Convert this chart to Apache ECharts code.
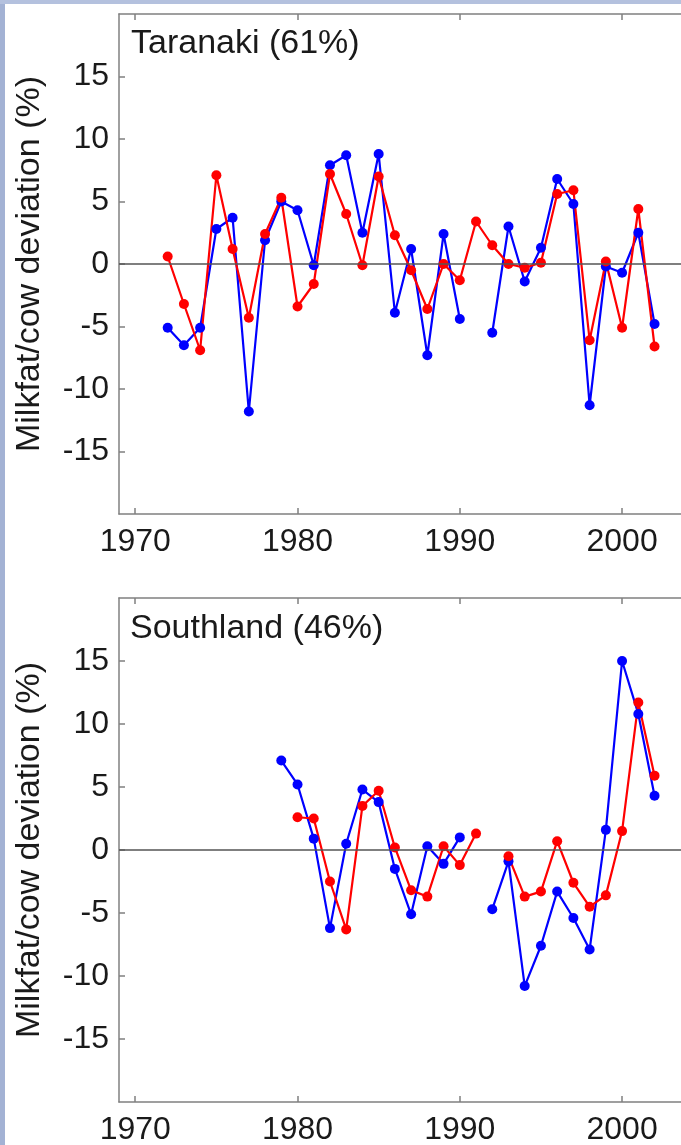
<!DOCTYPE html>
<html>
<head>
<meta charset="utf-8">
<script src="https://cdn.jsdelivr.net/npm/echarts@6/dist/echarts.min.js"></script>
<style>
  html, body { margin: 0; padding: 0; background: #fff; }
  #chart { width: 681px; height: 1145px; }
</style>
</head>
<body>
<div id="chart"></div>
<script>
const blueColor = '#0000ff';
const redColor = '#ff0000';
const axisColor = '#808080';
const textColor = '#1a1a1a';
const font = 'Liberation Sans';

// x tick labels / y tick labels
const yearTicks = [1970, 1980, 1990, 2000];
const valueTicks = [-15, -10, -5, 0, 5, 10, 15];

// Taranaki (61%)
const taranakiYears = [1972, 1973, 1974, 1975, 1976, 1977, 1978, 1979, 1980, 1981,
  1982, 1983, 1984, 1985, 1986, 1987, 1988, 1989, 1990, 1991,
  1992, 1993, 1994, 1995, 1996, 1997, 1998, 1999, 2000, 2001, 2002];
const taranakiBlue = [-5.1, -6.5, -5.1, 2.8, 3.7, -11.8, 1.9, 5.0, 4.3, -0.1,
  7.9, 8.7, 2.5, 8.8, -3.9, 1.2, -7.3, 2.4, -4.4, null,
  -5.5, 3.0, -1.4, 1.3, 6.8, 4.8, -11.3, -0.2, -0.7, 2.5, -4.8];
const taranakiRed = [0.6, -3.2, -6.9, 7.1, 1.2, -4.3, 2.4, 5.3, -3.4, -1.6,
  7.2, 4.0, -0.1, 7.0, 2.3, -0.5, -3.6, 0.0, -1.3, 3.4,
  1.5, 0.0, -0.3, 0.1, 5.6, 5.9, -6.1, 0.2, -5.1, 4.4, -6.6];

// Southland (46%)
const southlandYears = [1979, 1980, 1981, 1982, 1983, 1984, 1985, 1986, 1987, 1988,
  1989, 1990, 1991, 1992, 1993, 1994, 1995, 1996, 1997, 1998,
  1999, 2000, 2001, 2002];
const southlandBlue = [7.1, 5.2, 0.9, -6.2, 0.5, 4.8, 3.8, -1.5, -5.1, 0.3,
  -1.1, 1.0, null, -4.7, -0.9, -10.8, -7.6, -3.3, -5.4, -7.9,
  1.6, 15.0, 10.8, 4.3];
const southlandRed = [null, 2.6, 2.5, -2.5, -6.3, 3.5, 4.7, 0.2, -3.2, -3.7,
  0.3, -1.2, 1.3, null, -0.5, -3.7, -3.3, 0.7, -2.6, -4.5,
  -3.6, 1.5, 11.7, 5.9];

function pairs(years, vals) {
  return years.map(function (y, i) { return [y, vals[i]]; });
}

var lineOpt = { color: axisColor, width: 1.5 };

function xAxes(gridIndex) {
  return [
    {
      type: 'value', gridIndex: gridIndex, min: 1969, max: 2004, position: 'bottom',
      axisLine: { show: true, onZero: false, lineStyle: lineOpt },
      axisTick: { inside: true, length: 6, customValues: yearTicks, lineStyle: lineOpt },
      axisLabel: {
        customValues: yearTicks, margin: 12, fontSize: 32, color: textColor, fontFamily: font,
        formatter: function (v) { return String(v); }
      },
      splitLine: { show: false }
    },
    {
      type: 'value', gridIndex: gridIndex, min: 1969, max: 2004, position: 'top',
      axisLine: { show: true, onZero: false, lineStyle: lineOpt },
      axisTick: { inside: true, length: 6, customValues: yearTicks, lineStyle: lineOpt },
      axisLabel: { show: false },
      splitLine: { show: false }
    }
  ];
}

function yAxes(gridIndex) {
  return [
    {
      type: 'value', gridIndex: gridIndex, min: -20, max: 20, interval: 5, position: 'left',
      name: 'Milkfat/cow deviation (%)', nameLocation: 'middle', nameGap: 72,
      nameTextStyle: { fontSize: 34, color: textColor, fontFamily: font },
      axisLine: { show: true, onZero: false, lineStyle: lineOpt },
      axisTick: { inside: true, length: 6, customValues: valueTicks, lineStyle: lineOpt },
      axisLabel: { customValues: valueTicks, margin: 10, fontSize: 32, color: textColor, fontFamily: font },
      splitLine: { show: false }
    },
    {
      type: 'value', gridIndex: gridIndex, min: -20, max: 20, interval: 5, position: 'right',
      axisLine: { show: true, onZero: false, lineStyle: lineOpt },
      axisTick: { inside: true, length: 6, customValues: valueTicks, lineStyle: lineOpt },
      axisLabel: { show: false },
      splitLine: { show: false }
    }
  ];
}

function lineSeries(name, color, xi, yi, data, zero) {
  var s = {
    name: name, type: 'line', xAxisIndex: xi, yAxisIndex: yi,
    data: data, connectNulls: false,
    symbol: 'circle', symbolSize: 10,
    lineStyle: { color: color, width: 2.2 },
    itemStyle: { color: color }
  };
  if (zero) {
    s.markLine = {
      silent: true, symbol: ['none', 'none'],
      label: { show: false },
      lineStyle: { color: '#555', width: 1.5, type: 'solid' },
      data: [{ yAxis: 0 }]
    };
  }
  return s;
}

var chart = echarts.init(document.getElementById('chart'));
var titleStyle = { fontSize: 34, fontWeight: 'normal', color: textColor, fontFamily: font };

var option = {
  animation: false,
  backgroundColor: '#fff',
  title: [
    { text: 'Taranaki (61%)', left: 131, top: 27, padding: 0, textStyle: titleStyle },
    { text: 'Southland (46%)', left: 130, top: 612, padding: 0, textStyle: titleStyle }
  ],
  graphic: [
    { type: 'rect', shape: { x: 0, y: 0, width: 5, height: 1145 }, style: { fill: '#a3b2d4' }, z: -10 },
    { type: 'rect', shape: { x: 0, y: 0, width: 681, height: 4 }, style: { fill: '#b4c1de' }, z: -10 }
  ],
  grid: [
    { left: 119, top: 14, width: 568, height: 500, outerBoundsMode: 'none' },
    { left: 119, top: 598, width: 568, height: 504, outerBoundsMode: 'none' }
  ],
  xAxis: xAxes(0).concat(xAxes(1)),
  yAxis: yAxes(0).concat(yAxes(1)),
  series: [
    lineSeries('Taranaki blue', blueColor, 0, 0, pairs(taranakiYears, taranakiBlue), true),
    lineSeries('Taranaki red', redColor, 0, 0, pairs(taranakiYears, taranakiRed), false),
    lineSeries('Southland blue', blueColor, 2, 2, pairs(southlandYears, southlandBlue), true),
    lineSeries('Southland red', redColor, 2, 2, pairs(southlandYears, southlandRed), false)
  ]
};
chart.setOption(option);
</script>
</body>
</html>
